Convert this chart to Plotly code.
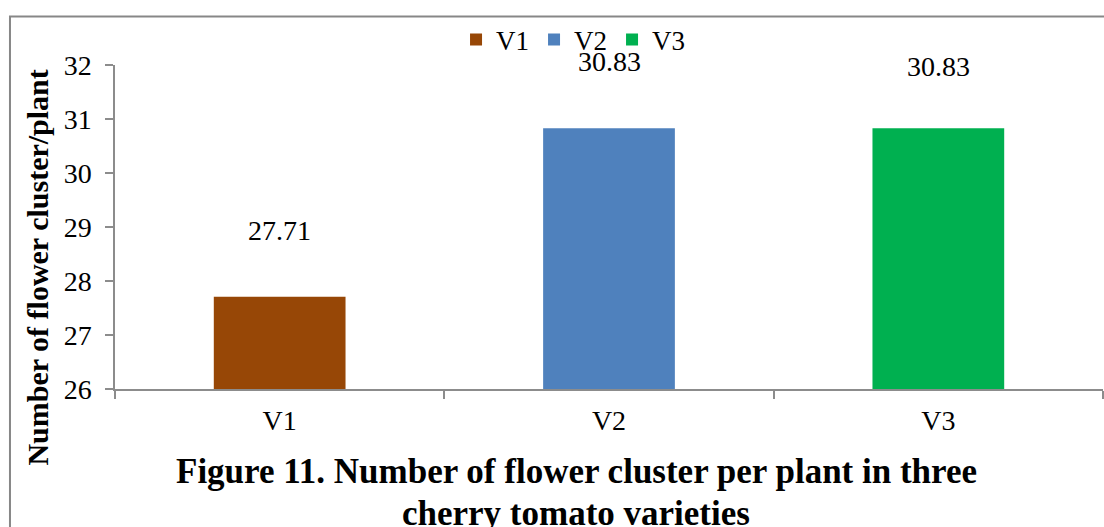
import plotly.graph_objects as go

varieties = ["V1", "V2", "V3"]
clusters_per_plant = [27.71, 30.83, 30.83]
bar_colors = ["#974706", "#4F81BD", "#00B050"]
label_lift_px = [66, 67, 62]   # vertical offset of the value labels above the bars
y_ticks = [26, 27, 28, 29, 30, 31, 32]

FONT = "Liberation Serif, Times New Roman, serif"
AXIS_GREY = "#8c8c8c"

fig = go.Figure()
for name, val, col, lift in zip(varieties, clusters_per_plant, bar_colors, label_lift_px):
    fig.add_trace(go.Bar(
        x=[name], y=[val], name=name, width=0.4,
        marker=dict(color=col, line=dict(width=0)),
    ))
    # value label floating above each bar
    fig.add_annotation(
        x=name, y=val, text=f"{val:.2f}", showarrow=False,
        yshift=lift, font=dict(family=FONT, size=28, color="black"),
    )

fig.update_layout(
    width=1104, height=527,
    margin=dict(l=115, r=1, t=65, b=138),
    paper_bgcolor="white", plot_bgcolor="white",
    barmode="overlay",
    font=dict(family=FONT, size=28, color="black"),
    showlegend=True,
    legend=dict(
        orientation="h", x=0.4636, xanchor="center", y=1.077, yanchor="middle",
        font=dict(family=FONT, size=27), bgcolor="rgba(0,0,0,0)",
        traceorder="normal",
    ),
    xaxis=dict(
        type="category", showline=True, linecolor=AXIS_GREY, linewidth=1.5,
        ticks="outside", tickson="boundaries", ticklen=8, tickcolor=AXIS_GREY,
        tickwidth=1.5, showgrid=False, zeroline=False,
        tickfont=dict(family=FONT, size=28), ticklabelstandoff=6,
    ),
    yaxis=dict(
        range=[26, 32], tickvals=y_ticks, showline=True, linecolor=AXIS_GREY,
        linewidth=1.5, ticks="outside", ticklen=8, tickcolor=AXIS_GREY,
        tickwidth=1.5, showgrid=False, zeroline=False,
        tickfont=dict(family=FONT, size=28), ticklabelstandoff=8,
    ),
)

# axis title
fig.add_annotation(
    xref="paper", yref="paper", x=-0.0789, y=0.3750, textangle=-90,
    text="<b>Number of flower cluster/plant</b>", showarrow=False,
    xanchor="center", yanchor="middle",
    font=dict(family=FONT, size=30, color="black"),
)
# two-line caption below the chart
caption_lines = ["Figure 11. Number of flower cluster per plant in three",
                 "cherry tomato varieties"]
for line, ypos in zip(caption_lines, [-0.2531, -0.3850]):
    fig.add_annotation(
        xref="paper", yref="paper", x=0.4666, y=ypos,
        text=f"<b>{line}</b>", showarrow=False,
        xanchor="center", yanchor="middle",
        font=dict(family=FONT, size=35, color="black"),
    )

# outer frame around the chart
fig.add_shape(
    type="rect", xref="paper", yref="paper",
    x0=-0.1063, x1=1.02, y0=-0.6, y1=1.1497,
    line=dict(color="#878787", width=2), fillcolor="rgba(0,0,0,0)",
    layer="below",
)

fig.write_html("out.html")
